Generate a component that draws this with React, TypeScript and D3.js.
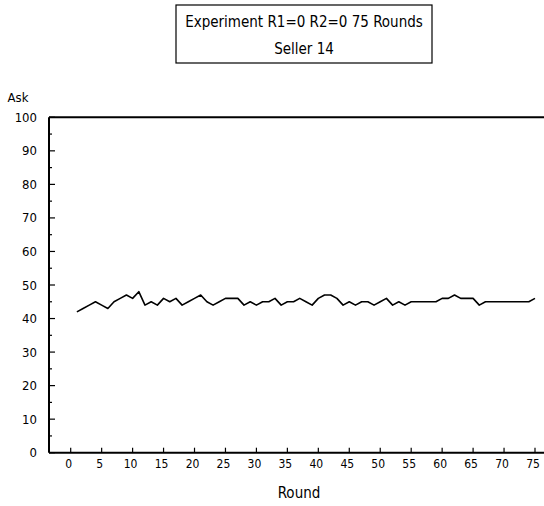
import React from "react";
import * as d3 from "d3";

const rounds: number[] = Array.from({ length: 75 }, (_, i) => i + 1);
const askValues: number[] = [
  42, 43, 44, 45, 44, 43, 45, 46, 47, 46,
  48, 44, 45, 44, 46, 45, 46, 44, 45, 46,
  47, 45, 44, 45, 46, 46, 46, 44, 45, 44,
  45, 45, 46, 44, 45, 45, 46, 45, 44, 46,
  47, 47, 46, 44, 45, 44, 45, 45, 44, 45,
  46, 44, 45, 44, 45, 45, 45, 45, 45, 46,
  46, 47, 46, 46, 46, 44, 45, 45, 45, 45,
  45, 45, 45, 45, 46,
];
const xTicks: number[] = d3.range(0, 80, 5);
const yMajorTicks: number[] = d3.range(0, 110, 10);
const yMinorTicks: number[] = d3.range(5, 100, 10);
const titleLines: string[] = ["Experiment R1=0 R2=0 75 Rounds", "Seller 14"];

const FONT = "'DejaVu Sans Condensed', 'Liberation Sans Narrow', 'DejaVu Sans', sans-serif";

export default function App() {
  const W = 544, H = 506;
  const axisLeft = 49, axisRight = 544;
  const x = d3.scaleLinear().domain([0, 75]).range([70.7, 535]);
  const y = d3.scaleLinear().domain([0, 100]).range([452.7, 117.3]);
  const line = d3
    .line<number>()
    .x((_, i) => x(rounds[i]))
    .y((d) => y(d));

  return (
    <svg
      width={W}
      height={H}
      style={{ position: "absolute", left: 0, top: 0, background: "#fff" }}
      fontFamily={FONT}
    >
      <rect x={0} y={0} width={W} height={H} fill="#fff" />
      {/* title box */}
      <rect x={176} y={5} width={256} height={58} fill="none" stroke="#000" strokeWidth={1.2} />
      {titleLines.map((t, i) => (
        <text key={t} x={304} y={27 + i * 27} textAnchor="middle" fontSize={15} fill="#000">
          {t}
        </text>
      ))}
      {/* frame */}
      <line x1={axisLeft} x2={axisRight} y1={y(100)} y2={y(100)} stroke="#000" strokeWidth={2} />
      <line x1={axisLeft} x2={axisRight} y1={y(0)} y2={y(0)} stroke="#000" strokeWidth={2} />
      <line x1={axisLeft} x2={axisLeft} y1={y(100)} y2={y(0)} stroke="#000" strokeWidth={2} />
      {/* y ticks */}
      {yMajorTicks.map((v) => (
        <g key={"ym" + v}>
          <line x1={axisLeft} x2={axisLeft + 6} y1={y(v)} y2={y(v)} stroke="#000" strokeWidth={1.2} />
          <text x={37} y={y(v) + 4.5} textAnchor="end" fontSize={13} fill="#000">
            {v}
          </text>
        </g>
      ))}
      {yMinorTicks.map((v) => (
        <line key={"yn" + v} x1={axisLeft} x2={axisLeft + 3} y1={y(v)} y2={y(v)} stroke="#000" strokeWidth={1.2} />
      ))}
      {/* x ticks */}
      {xTicks.map((v) => (
        <g key={"x" + v}>
          <line x1={x(v)} x2={x(v)} y1={y(0)} y2={y(0) - 5} stroke="#000" strokeWidth={1.2} />
          <text x={x(v) - 2} y={468} textAnchor="middle" fontSize={12} fill="#000">
            {v}
          </text>
        </g>
      ))}
      <text x={18} y={102} textAnchor="middle" fontSize={13} fill="#000">
        Ask
      </text>
      <text x={299} y={498} textAnchor="middle" fontSize={15} fill="#000">
        Round
      </text>
      <path d={line(askValues) || ""} fill="none" stroke="#000" strokeWidth={1.6} strokeLinejoin="round" />
    </svg>
  );
}
